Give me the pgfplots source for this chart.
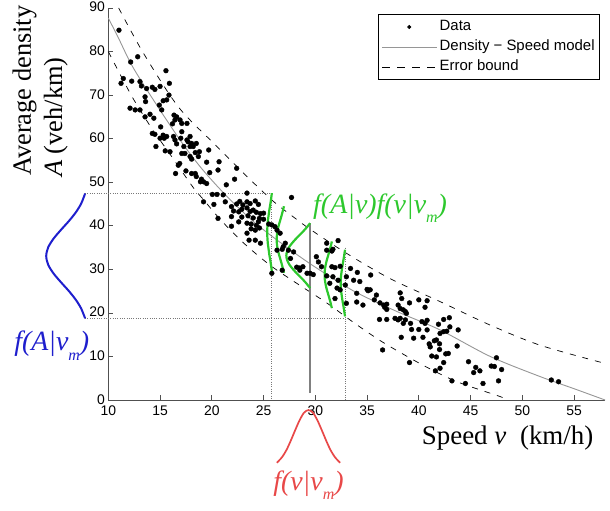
\documentclass[border=0pt]{standalone}
\usepackage{fontspec}
\setmainfont{Liberation Sans}
\newfontfamily\tnr{Liberation Serif}
\usepackage{pgfplots}
\pgfplotsset{compat=1.18}
\usepackage{pgfplotstable}
\definecolor{mgreen}{RGB}{45,200,45}
\definecolor{mblue}{RGB}{30,30,205}
\definecolor{mred}{RGB}{232,72,72}
\definecolor{axgray}{RGB}{80,80,80}
\definecolor{modelgray}{RGB}{150,150,150}
\definecolor{dotgray}{RGB}{120,120,120}

\pgfplotstableread{
x y
11.03 84.9
12.84 78.8
12.16 77.6
11.45 73.8
11.23 72.7
12.26 73.2
13.06 73.1
13.2 72.1
13.7 71.5
14.25 71.8
14.5 71.3
15.0 72.0
15.57 75.6
15.9 72.7
15.86 70.0
15.64 68.9
15.3 68.7
14.93 67.7
13.55 69.6
13.6 68.5
12.1 67.0
12.6 66.6
13.06 66.6
13.55 65.0
14.03 65.6
14.4 64.7
15.16 66.6
16.35 65.4
16.6 65.0
16.93 64.3
16.44 64.3
16.2 63.4
17.1 63.5
17.6 63.5
15.06 62.7
14.25 61.2
14.5 61.0
15.3 60.8
15.4 60.1
15.0 60.1
15.64 60.5
14.6 58.2
15.5 57.2
15.96 57.0
16.3 60.5
16.44 59.7
16.6 58.8
17.1 61.6
17.0 60.1
17.3 58.2
17.1 56.6
17.4 56.6
17.6 59.7
17.7 59.3
17.9 60.5
18.05 58.9
17.9 58.2
18.2 58.2
18.5 58.9
18.4 56.8
18.8 57.0
18.7 55.9
17.9 55.9
18.05 55.3
19.7 57.4
19.5 54.6
16.9 54.3
16.76 53.9
16.5 52.0
17.5 52.6
18.05 52.0
18.4 52.0
18.5 51.3
19.0 50.7
18.9 50.1
19.2 50.1
19.8 52.2
20.6 52.8
20.7 54.7
21.4 49.4
22.2 50.7
22.4 53.2
20.05 47.2
20.5 47.2
23.4 47.5
19.5 49.7
21.1 47.1
27.7 46.5
19.2 45.5
20.2 44.9
21.3 45.5
21.9 44.4
22.4 45.0
22.7 45.6
23.0 44.8
23.4 45.5
23.7 45.1
24.2 45.7
24.5 44.9
22.1 43.4
22.6 43.2
22.9 43.8
23.4 44.1
23.7 43.3
24.0 43.6
24.3 43.1
24.7 42.8
25.0 42.9
22.9 42.0
23.5 42.3
24.0 41.8
24.6 41.7
25.0 41.5
21.9 42.1
20.6 41.7
22.6 40.9
23.4 40.6
23.8 40.4
24.3 40.1
24.5 40.9
23.8 39.3
24.2 39.0
24.6 39.5
21.9 39.9
23.4 38.3
23.6 36.7
24.2 36.7
24.7 36.0
25.5 40.4
25.8 40.2
26.1 39.8
26.3 39.0
26.6 38.3
27.1 36.0
27.9 34.0
26.3 34.4
26.8 34.6
27.4 34.4
26.9 35.2
27.6 32.5
25.8 29.1
26.8 29.8
28.2 30.5
28.5 30.3
28.8 30.6
28.5 29.8
29.2 29.1
29.5 29.1
29.8 28.8
30.1 32.9
31.1 36.0
32.2 36.6
31.1 34.4
31.6 34.2
31.7 34.6
30.3 31.7
30.6 30.6
31.6 30.6
31.9 30.4
32.4 30.7
33.4 30.2
31.1 28.5
31.7 28.3
32.2 27.5
31.4 26.8
32.1 25.7
32.4 25.3
32.9 26.4
33.0 28.3
33.7 27.5
34.0 24.5
31.9 23.3
33.0 22.2
34.0 22.5
34.06 29.3
34.3 27.2
35.35 28.7
35.0 25.4
35.1 25.1
35.3 25.3
35.9 24.1
35.7 23.0
34.6 21.8
36.25 22.3
36.6 21.8
36.9 22.0
36.7 21.3
36.9 20.8
36.2 18.5
36.9 18.5
38.2 24.6
38.35 23.3
38.0 21.8
38.2 21.0
38.5 20.7
38.7 20.3
38.8 19.9
37.7 18.75
38.0 18.4
38.2 18.75
38.5 17.6
38.7 18.4
39.1 22.3
40.0 23.0
40.8 22.8
40.6 21.3
40.8 18.3
40.3 18.0
40.6 17.6
39.2 17.6
39.3 16.2
40.0 16.2
40.8 16.1
38.3 14.4
39.5 14.2
40.4 14.4
42.4 18.5
42.95 18.9
41.9 17.4
42.05 15.3
42.4 15.7
42.7 15.8
43.0 16.8
43.8 16.1
41.5 13.6
41.7 13.8
41.0 12.9
41.1 12.2
42.0 12.9
42.0 11.6
43.7 12.4
42.6 10.6
42.85 10.7
41.25 10.1
41.7 9.9
42.4 8.6
42.05 7.3
41.6 6.7
39.1 8.6
36.5 11.5
44.8 8.8
45.3 6.3
45.5 7.5
45.9 6.7
47.0 7.8
47.3 7.7
47.5 9.7
48.0 7.0
43.2 4.4
44.5 3.8
46.2 3.8
47.7 4.4
52.8 4.6
53.5 4.2
}\datatable

\pgfplotstableread{
x y
10 87.7
11 83.0
12.26 76.9
14 70.2
16.9 59.8
19 53.2
21.4 46.9
24.2 40.6
27.4 34.8
30 30.5
33.8 24.9
38 20.2
42.05 16.1
46.9 10.0
51.7 5.4
55 2.6
58 0
}\modeltable

\pgfplotstableread{
x y
11 90
13.4 79.6
16.8 67.2
20.5 58.2
23.4 51.3
26 45.5
27.9 42.0
29.5 39.2
33 33.7
37.2 27.9
42.05 22.6
46.9 17.2
51.7 12.6
58 8.4
}\uppertable

\pgfplotstableread{
x y
10 80
10.65 77
12.4 69.2
14.35 61.8
15.8 57
18.2 48.8
19.2 46
20.8 41.5
23 36.2
25.6 31
28.2 26.8
31.1 22.3
33.7 17.8
36.5 13.3
40.4 8.0
43.7 4.2
47.85 0.8
48.5 0
}\lowertable

\begin{document}
\begin{tikzpicture}
\begin{axis}[
  x=10.35bp, y=4.356bp,
  xmin=10, xmax=58, ymin=0, ymax=90,
  axis x line*=bottom, axis y line*=left,
  axis line style={axgray, line width=0.9bp},
  xtick={10,15,...,55}, ytick={0,10,...,90},
  tick align=inside, major tick length=5bp,
  tick style={axgray, line width=0.7bp},
  ticklabel style={font=\fontsize{14}{16}\selectfont, text=black},
  xticklabel style={yshift=-2.5bp},
  yticklabel style={yshift=0.8bp},
  /pgf/number format/assume math mode=true,
  clip=false,
  legend cell align=left,
  legend style={at={(axis cs:57.5,88.6)}, anchor=north east, draw=black,
    line width=0.7bp, fill=white, font=\fontsize{15}{17}\selectfont,
    inner xsep=3bp, inner ysep=2.5bp, row sep=0bp,
    nodes={text height=11bp, text depth=3.5bp, inner ysep=2.8bp}},
]
% data
\addplot[only marks, mark=*, mark size=2.4bp, black,
  legend image code/.code={\fill[black] (27bp,0bp) circle (1.6bp);}]
  table[x=x,y=y] {\datatable};
\addlegendentry{Data}
% model
\addplot[modelgray, line width=0.9bp, smooth,
  legend image code/.code={\draw[modelgray, line width=0.9bp] (0bp,0bp) -- (55bp,0bp);}]
  table[x=x,y=y] {\modeltable};
\addlegendentry{Density − Speed model}
% bounds
\addplot[black, line width=0.7bp, smooth, dash pattern=on 6bp off 7bp,
  legend image code/.code={\draw[black, line width=0.7bp, dash pattern=on 8bp off 7bp] (0bp,0bp) -- (55bp,0bp);}]
  table[x=x,y=y] {\uppertable};
\addlegendentry{Error bound}
\addplot[black, line width=0.7bp, smooth, dash pattern=on 6bp off 7bp, forget plot]
  table[x=x,y=y] {\lowertable};

% dotted guide lines
\addplot[dotgray, line width=0.8bp, dash pattern=on 1bp off 1.3bp, forget plot]
  coordinates {(7.76,47.4) (25.8,47.4) (25.8,0)};
\addplot[dotgray, line width=0.8bp, dash pattern=on 1bp off 1.3bp, forget plot]
  coordinates {(7.76,18.75) (32.87,18.75)};
\addplot[dotgray, line width=0.8bp, dash pattern=on 1bp off 1.3bp, forget plot]
  coordinates {(32.87,35) (32.87,0)};
% gray vertical at v_m
\addplot[gray, line width=1.3bp, forget plot]
  coordinates {(29.5,1.6) (29.5,40.6)};

% green conditional densities
\addplot[mgreen, line width=2.2bp, smooth, forget plot] coordinates {
(25.8,29.5) (25.72,30.98) (25.64,32.23) (25.55,33.49) (25.48,34.74) (25.41,35.99) (25.37,37.25) (25.35,38.5) (25.37,39.75) (25.41,41.01) (25.48,42.26) (25.55,43.51) (25.64,44.77) (25.72,46.02) (25.8,47.5)};
\addplot[mgreen, line width=2.2bp, smooth, forget plot] coordinates {
(26.97,29.2) (26.84,30.455) (26.72,31.518) (26.59,32.589) (26.46,33.652) (26.36,34.716) (26.29,35.787) (26.27,36.85) (26.29,37.913) (26.36,38.984) (26.46,40.048) (26.59,41.111) (26.72,42.182) (26.84,43.245) (26.97,44.5)};
\addplot[mgreen, line width=2.2bp, smooth, forget plot] coordinates {
(29.5,25.7) (29.08,26.92) (28.68,27.96) (28.24,29.0) (27.84,30.04) (27.50,31.07) (27.28,32.11) (27.2,33.15) (27.28,34.19) (27.50,35.23) (27.84,36.26) (28.24,37.30) (28.68,38.34) (29.08,39.38) (29.5,40.6)};
\addplot[mgreen, line width=2.2bp, smooth, forget plot] coordinates {
(31.6,21.1) (31.47,22.355) (31.35,23.418) (31.22,24.489) (31.09,25.552) (30.99,26.616) (30.92,27.687) (30.9,28.75) (30.92,29.813) (30.99,30.884) (31.09,31.948) (31.22,33.011) (31.35,34.082) (31.47,35.145) (31.6,36.4)};
\addplot[mgreen, line width=2.2bp, smooth, forget plot] coordinates {
(32.87,19.2) (32.79,20.455) (32.72,21.518) (32.64,22.589) (32.57,23.652) (32.51,24.716) (32.46,25.787) (32.45,26.85) (32.46,27.913) (32.51,28.984) (32.57,30.048) (32.64,31.111) (32.72,32.182) (32.79,33.245) (32.87,34.5)};

% blue marginal density (left of axis)
\addplot[mblue, line width=2bp, smooth, forget plot] coordinates {
(7.76,18.75) (7.37,21.05) (6.85,23.05) (6.18,25.05) (5.42,27.06) (4.71,29.05) (4.19,31.06) (4.0,33.05) (4.19,35.04) (4.71,37.05) (5.42,39.05) (6.18,41.05) (6.85,43.05) (7.37,45.05) (7.76,47.4)};
% red speed density (below axis)
\addplot[mred, line width=1.7bp, smooth, forget plot] coordinates {
(26.28,-14.4) (26.78,-13.13) (27.21,-11.48) (27.63,-9.32) (28.06,-6.89) (28.49,-4.59) (28.91,-2.90) (29.34,-2.3) (29.77,-2.90) (30.19,-4.59) (30.62,-6.89) (31.05,-9.32) (31.47,-11.48) (31.90,-13.13) (32.40,-14.4)};

% labels
\node[anchor=base west, rotate=90, inner sep=0pt, font=\tnr\fontsize{26.5}{28}\selectfont]
  at (axis cs:2.53,51.4) {Average density};
\node[anchor=base west, rotate=90, inner sep=0pt, font=\tnr\fontsize{26.5}{28}\selectfont]
  at (axis cs:5.53,51.2) {\itshape A\upshape\ (veh/km)};
\node[anchor=base west, inner sep=0pt, font=\tnr\fontsize{27}{29}\selectfont]
  at (axis cs:40.28,-10.17) {Speed \textit{v}\hspace{7bp} (km/h)};

\node[anchor=base west, inner sep=0pt, text=mgreen, font=\tnr\itshape\fontsize{28}{30}\selectfont]
  at (axis cs:29.78,42.93) {f(A|v)f(v|v\raisebox{-0.35em}{\fontsize{16}{16}\selectfont m})};
\node[anchor=base west, inner sep=0pt, text=mblue, font=\tnr\itshape\fontsize{28}{30}\selectfont]
  at (axis cs:0.9,11.3) {f(A|v\raisebox{-0.35em}{\fontsize{16}{16}\selectfont m})};
\node[anchor=base west, inner sep=0pt, text=mred, font=\tnr\itshape\fontsize{28}{30}\selectfont]
  at (axis cs:25.92,-20.66) {f(v|v\raisebox{-0.35em}{\fontsize{16}{16}\selectfont m})};

\coordinate (bbl) at (axis cs:-0.464,-25.25);
\coordinate (btr) at (axis cs:58.47,91.83);
\end{axis}
\pgfresetboundingbox
\path[use as bounding box] (bbl) rectangle (btr);
\end{tikzpicture}
\end{document}
